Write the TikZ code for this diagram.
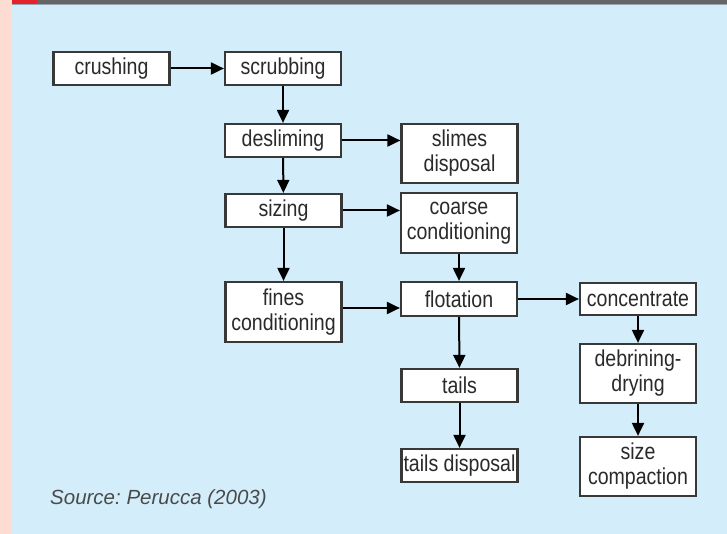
\documentclass[tikz,border=0pt]{standalone}
\usepackage{fontspec}
\setmainfont{Liberation Sans}[FakeStretch=0.85]
\newfontfamily\srcfont{Liberation Sans}
\usetikzlibrary{arrows.meta,calc}
\definecolor{bgblue}{HTML}{D3EEFA}
\definecolor{pinkstrip}{HTML}{FDDDD1}
\definecolor{topgray}{HTML}{656565}
\definecolor{topred}{HTML}{E52129}
\definecolor{boxline}{HTML}{383838}
\definecolor{txt}{HTML}{2A2A2A}
\tikzset{
  procbox/.style={draw=boxline, line width=2.2pt, fill=white, text=txt,
    inner sep=0pt, minimum width=116pt, align=center,
    font=\fontsize{23}{25}\selectfont},
  arr/.style={draw=black, line width=2pt, -{Triangle[length=13pt,width=12pt]}},
}
\frenchspacing
\begin{document}
\begin{tikzpicture}[x=1pt,y=-1pt]
\useasboundingbox (0,0) rectangle (727,534);
\fill[bgblue] (0,0) rectangle (727,534);
\fill[pinkstrip] (0,0) rectangle (12,534);
\fill[topgray] (12,0) rectangle (727,4);
\fill[topred] (12,0) rectangle (37,4);
\fill[black!30!bgblue] (12,4) rectangle (727,5);

\node[procbox, minimum height=33pt] (crushing) at (111.5,68.5) {crushing};
\node[procbox, minimum height=33pt] (scrubbing) at (283,68.5) {scrubbing};
\node[procbox, minimum height=33pt] (desliming) at (283,140.5) {desliming};
\node[procbox, minimum height=59pt] (slimes) at (459.5,153.5) {slimes\\disposal};
\node[procbox, minimum height=33pt] (sizing) at (283.5,210.5) {sizing};
\node[procbox, minimum height=60pt] (coarse) at (459,223) {coarse\\conditioning};
\node[procbox, minimum height=60pt] (fines) at (283.5,312) {fines\\conditioning};
\node[procbox, minimum height=34pt] (flotation) at (459,299) {flotation};
\node[procbox, minimum height=32pt] (concentrate) at (638,299) {concentrate};
\node[procbox, minimum height=59pt] (debrining) at (638,373.5) {debrining-\\drying};
\node[procbox, minimum height=59pt] (sizecomp) at (638,466.5) {size\\compaction};
\node[procbox, minimum height=33pt] (tails) at (459.5,385.5) {tails};
\node[procbox, minimum height=33pt] (tailsdisp) at (459.5,465.5) {tails disposal};

\node[anchor=west, text=txt!85!white, inner sep=0pt,
  font=\srcfont\fontsize{20.5}{24}\selectfont\itshape] (source) at (50,499) {Source: Perucca (2003)};

\draw[arr] (crushing) -- (scrubbing);
\draw[arr] (scrubbing) -- (desliming);
\draw[arr] (desliming.east) -- (desliming.east -| slimes.west);
\draw[arr] (desliming) -- (sizing);
\draw[arr] (sizing.east) -- (sizing.east -| coarse.west);
\draw[arr] (sizing) -- (fines);
\draw[arr] (coarse) -- (flotation);
\coordinate (fo) at ($(fines.east)+(0,-4)$);
\draw[arr] (fo) -- (fo -| flotation.west);
\draw[arr] (flotation) -- (concentrate);
\draw[arr] (flotation) -- (tails);
\draw[arr] (tails) -- (tailsdisp);
\draw[arr] (concentrate) -- (debrining);
\draw[arr] (debrining) -- (sizecomp);
\end{tikzpicture}
\end{document}
